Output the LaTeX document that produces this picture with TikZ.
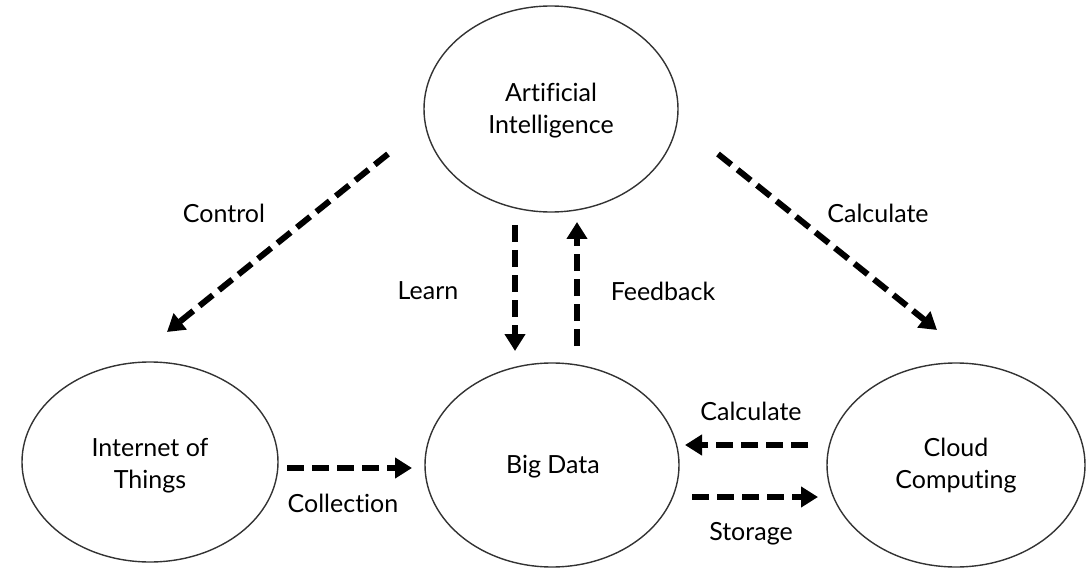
\documentclass[tikz,border=0pt]{standalone}
\usepackage{fontspec}
\setmainfont{Lato}[Ligatures=NoCommon]
\usetikzlibrary{arrows.meta,shapes.geometric}
\begin{document}
\begin{tikzpicture}[x=1pt,y=-1pt,
  topic/.style={draw=black!80,line width=1.4pt,ellipse,inner sep=0pt},
  flow/.style={line width=6pt,dash pattern=on 17pt off 8pt,-{Triangle[length=17pt,width=20pt]}},
  lbl/.style={font=\fontsize{25}{32}\selectfont,text=black}]
\useasboundingbox (0,0) rectangle (1086,569);
\node[topic,minimum width=254pt,minimum height=206pt] (ai) at (551,109) {};
\node[lbl,align=center] (ait) at (551,111) {Artificial\\Intelligence};
\node[topic,minimum width=256pt,minimum height=200pt] (iot) at (150,462) {};
\node[lbl,align=center] (iott) at (150,466) {Internet of\\Things};
\node[topic,minimum width=254pt,minimum height=204pt] (bd) at (552,465) {};
\node[lbl] (bdt) at (553,467) {Big Data};
\node[topic,minimum width=258pt,minimum height=204pt] (cc) at (956,465) {};
\node[lbl,align=center] (cct) at (956,466) {Cloud\\Computing};
% arrow end points
\coordinate (c1) at (388,154); \coordinate (c2) at (167,332);
\coordinate (k1) at (718,154); \coordinate (k2) at (937,330);
\coordinate (l1) at (515,225); \coordinate (l2) at (515,351);
\coordinate (f1) at (577,346); \coordinate (f2) at (577,222);
\coordinate (o1) at (287,468); \coordinate (o2) at (412,468);
\coordinate (h1) at (808,445); \coordinate (h2) at (685,445);
\coordinate (s1) at (692,497); \coordinate (s2) at (818,497);
\draw[flow] (c1) -- (c2);
\draw[flow] (k1) -- (k2);
\draw[flow] (l1) -- (l2);
\draw[flow] (f1) -- (f2);
\draw[flow] (o1) -- (o2);
\draw[flow] (h1) -- (h2);
\draw[flow] (s1) -- (s2);
\node[lbl] (lc) at (224,213) {Control};
\node[lbl] (lk) at (878,213) {Calculate};
\node[lbl] (ll) at (428,291) {Learn};
\node[lbl] (lf) at (663,291) {Feedback};
\node[lbl] (lo) at (343,503) {Collection};
\node[lbl] (lh) at (751,411) {Calculate};
\node[lbl] (ls) at (751,534) {Storage};
\end{tikzpicture}
\end{document}
